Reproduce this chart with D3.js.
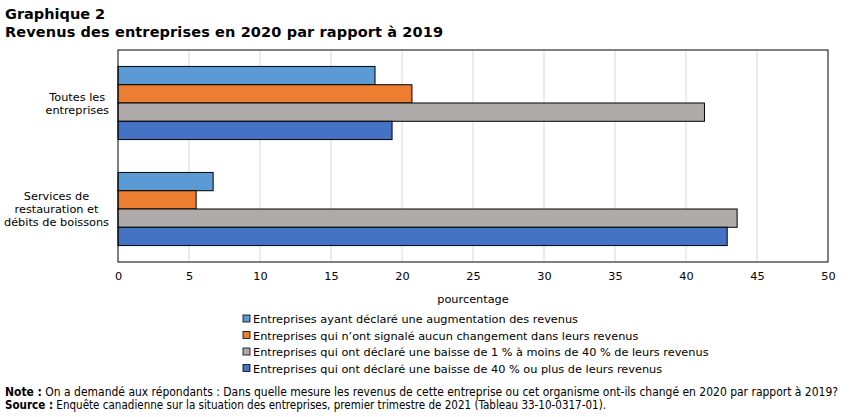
<!DOCTYPE html>
<html>
<head>
<meta charset="utf-8">
<script src="https://cdn.jsdelivr.net/npm/d3@7"></script>
<style>
  body { margin: 0; background: #fff; }
  text { font-family: "DejaVu Sans", Verdana, sans-serif; fill: #000; }
</style>
</head>
<body>
<div id="chart"></div>
<script>
// données
var categories = [["Toutes les", "entreprises"], ["Services de", "restauration et", "débits de boissons"]];
var seriesNames = [
  "Entreprises ayant déclaré une augmentation des revenus",
  "Entreprises qui n\u2019ont signalé aucun changement dans leurs revenus",
  "Entreprises qui ont déclaré une baisse de 1 % à moins de 40 % de leurs revenus",
  "Entreprises qui ont déclaré une baisse de 40 % ou plus de leurs revenus"
];
var augmentation = [18.1, 6.7];
var aucunChangement = [20.7, 5.5];
var baisseMoins40 = [41.3, 43.6];
var baisse40Plus = [19.3, 42.9];
var xTicks = [0, 5, 10, 15, 20, 25, 30, 35, 40, 45, 50];
var colors = ["#5B9BD5", "#ED7D31", "#AFABAB", "#4472C4"];

var series = [augmentation, aucunChangement, baisseMoins40, baisse40Plus];

var width = 851, height = 417;
var margin = {left: 118, right: 23, top: 50, bottom: 155};
var fs = "11.3px";

var svg = d3.select("#chart").append("svg")
  .attr("width", width)
  .attr("height", height);

// titre
svg.append("text").attr("x", 5).attr("y", 19)
  .style("font-weight", "bold").style("font-size", "14.5px")
  .text("Graphique  2");
svg.append("text").attr("x", 5).attr("y", 37)
  .style("font-weight", "bold").style("font-size", "14.5px")
  .attr("textLength", 438).attr("lengthAdjust", "spacing")
  .text("Revenus des entreprises en 2020 par rapport à 2019");

var x = d3.scaleLinear().domain([0, 50]).range([margin.left, width - margin.right]);
var y = d3.scaleBand().domain(d3.range(categories.length))
  .range([margin.top, height - margin.bottom])
  .paddingInner(0.31).paddingOuter(0.155);
var ySub = d3.scaleBand().domain(d3.range(series.length)).range([0, y.bandwidth()]);

// grille
svg.append("g").selectAll("line")
  .data(xTicks.slice(1, -1))
  .enter().append("line")
  .attr("x1", d => x(d)).attr("x2", d => x(d))
  .attr("y1", margin.top).attr("y2", height - margin.bottom)
  .attr("stroke", "#d9d9d9").attr("stroke-width", 1);

// barres
series.forEach(function(vals, s) {
  svg.append("g").selectAll("rect")
    .data(vals)
    .enter().append("rect")
    .attr("x", x(0))
    .attr("y", (d, i) => y(i) + ySub(s))
    .attr("width", d => x(d) - x(0))
    .attr("height", ySub.bandwidth())
    .attr("fill", colors[s])
    .attr("stroke", "#000").attr("stroke-width", 1);
});

// cadre
svg.append("rect")
  .attr("x", margin.left).attr("y", margin.top)
  .attr("width", width - margin.left - margin.right)
  .attr("height", height - margin.top - margin.bottom)
  .attr("fill", "none").attr("stroke", "#000").attr("stroke-width", 1);

// axe x
var xAxis = svg.append("g")
  .attr("transform", "translate(0," + (height - margin.bottom) + ")")
  .call(d3.axisBottom(x).tickValues(xTicks).tickSize(0).tickPadding(10));
xAxis.select(".domain").remove();
xAxis.selectAll("text").style("font-size", fs).style("font-family", "DejaVu Sans");

svg.append("text")
  .attr("x", (x(0) + x(50)) / 2).attr("y", 303)
  .attr("text-anchor", "middle").style("font-size", fs)
  .text("pourcentage");

// étiquettes y
categories.forEach(function(lines, i) {
  var g = svg.append("g");
  var cy = y(i) + y.bandwidth() / 2;
  var texts = g.selectAll("text").data(lines).enter().append("text")
    .attr("y", (d, j) => cy + (j - (lines.length - 1) / 2) * 13 + 4)
    .attr("text-anchor", "middle")
    .style("font-size", fs)
    .text(d => d);
  var maxW = d3.max(texts.nodes(), n => n.getComputedTextLength());
  texts.attr("x", margin.left - 9 - maxW / 2);
});

// légende
var legend = svg.append("g");
seriesNames.forEach(function(name, i) {
  var ly = 319 + i * 16.5;
  legend.append("rect")
    .attr("x", 243).attr("y", ly - 4).attr("width", 7).attr("height", 7)
    .attr("fill", colors[i]).attr("stroke", "#000").attr("stroke-width", 0.8);
  legend.append("text")
    .attr("x", 253).attr("y", ly + 4)
    .style("font-size", fs)
    .text(name);
});

// note et source
var note = svg.append("text").attr("x", 5).attr("y", 396)
  .style("font-size", "11.5px").style("font-family", "DejaVu Sans Condensed")
  .attr("textLength", 833).attr("lengthAdjust", "spacingAndGlyphs");
note.append("tspan").style("font-weight", "bold").text("Note :");
note.append("tspan").text(" On a demandé aux répondants : Dans quelle mesure les revenus de cette entreprise ou cet organisme ont-ils changé en 2020 par rapport à 2019?");
var src = svg.append("text").attr("x", 5).attr("y", 409)
  .style("font-size", "11.5px").style("font-family", "DejaVu Sans Condensed")
  .attr("textLength", 601).attr("lengthAdjust", "spacingAndGlyphs");
src.append("tspan").style("font-weight", "bold").text("Source :");
src.append("tspan").text(" Enquête canadienne sur la situation des entreprises, premier trimestre de 2021 (Tableau 33-10-0317-01).");
</script>
</body>
</html>
